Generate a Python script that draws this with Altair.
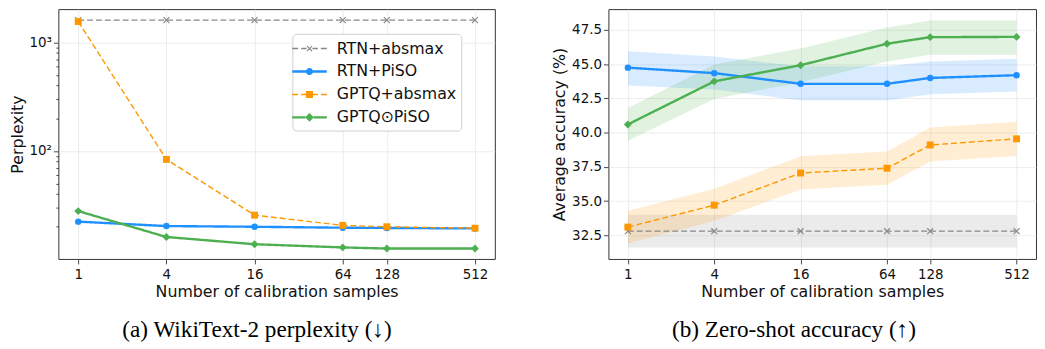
import altair as alt
import pandas as pd

# ---------------- data ----------------
series = ["RTN+absmax", "RTN+PiSO", "GPTQ+absmax", "GPTQ⊙PiSO"]
samples = [1, 4, 16, 64, 128, 512]
x_ticks = [1, 4, 16, 64, 128, 512]

# (a) WikiText-2 perplexity
ppl_rtn_absmax = [1607, 1607, 1607, 1607, 1607, 1607]
ppl_rtn_piso = [22.3, 20.3, 20.0, 19.6, 19.5, 19.3]
ppl_gptq_absmax = [1560, 83.6, 25.6, 20.6, 20.0, 19.4]
ppl_gptq_piso = [27.9, 16.1, 13.8, 12.9, 12.6, 12.6]

# (b) zero-shot accuracy (mean, band low, band high)
acc_rtn_absmax = [32.8, 32.8, 32.8, 32.8, 32.8, 32.8]
acc_rtn_absmax_lo = [31.6, 31.6, 31.6, 31.6, 31.6, 31.6]
acc_rtn_absmax_hi = [34.0, 34.0, 34.0, 34.0, 34.0, 34.0]
acc_rtn_piso = [44.75, 44.35, 43.57, 43.57, 44.0, 44.2]
acc_rtn_piso_lo = [43.45, 43.15, 42.35, 42.35, 42.8, 43.0]
acc_rtn_piso_hi = [45.95, 45.57, 44.85, 44.85, 45.2, 45.4]
acc_gptq_absmax = [33.1, 34.7, 37.05, 37.4, 39.1, 39.55]
acc_gptq_absmax_lo = [31.9, 33.55, 35.85, 36.2, 37.9, 38.3]
acc_gptq_absmax_hi = [34.3, 35.9, 38.27, 38.62, 40.37, 40.79]
acc_gptq_piso = [40.6, 43.75, 44.93, 46.5, 46.98, 47.0]
acc_gptq_piso_lo = [39.4, 42.46, 43.69, 45.21, 45.69, 45.69]
acc_gptq_piso_hi = [41.8, 44.98, 46.16, 47.68, 48.2, 48.2]

left_ticks_major = [100, 1000]
left_ticks_minor = [20, 30, 40, 50, 60, 70, 80, 90, 200, 300, 400, 500, 600, 700, 800, 900]
right_ticks = [32.5, 35.0, 37.5, 40.0, 42.5, 45.0, 47.5]

# ---------------- styles ----------------
colors = ["#888888", "#1E90FF", "#FF9800", "#4CAF50"]
dashed = [True, False, True, False]
widths = [1.4, 2.4, 1.4, 2.4]
FONT = "DejaVu Sans"

ppl_df = pd.DataFrame({
    "samples": samples * 4,
    "series": [s for s in series for _ in samples],
    "value": ppl_rtn_absmax + ppl_rtn_piso + ppl_gptq_absmax + ppl_gptq_piso,
})
acc_df = pd.DataFrame({
    "samples": samples * 4,
    "series": [s for s in series for _ in samples],
    "value": acc_rtn_absmax + acc_rtn_piso + acc_gptq_absmax + acc_gptq_piso,
    "lo": acc_rtn_absmax_lo + acc_rtn_piso_lo + acc_gptq_absmax_lo + acc_gptq_piso_lo,
    "hi": acc_rtn_absmax_hi + acc_rtn_piso_hi + acc_gptq_absmax_hi + acc_gptq_piso_hi,
})

X_PATH = "M-1,-1L1,1M-1,1L1,-1"

# legend symbol geometry (pixels), converted to the unit box of a custom symbol
LEG_SIZE = 19.4                 # symbol "diameter" used by the legend layout
R = LEG_SIZE / 2.0              # pixels per path unit
HALF_LEN = 17.5                 # half length of the sample line (px)


def u(px):
    return px / R


def seg(x0, x1, h):
    return f"M{u(x0):.3f},{u(-h):.3f}H{u(x1):.3f}V{u(h):.3f}H{u(x0):.3f}Z"


def line_part(m, h, dash):
    parts = []
    if not dash:
        parts.append(seg(-HALF_LEN, -m, h))
        parts.append(seg(m, HALF_LEN, h))
    else:
        d, g = 6.0, 3.0
        x = -HALF_LEN
        while x < -m - 0.3:
            parts.append(seg(x, min(x + d, -m), h))
            x += d + g
        x = HALF_LEN
        while x > m + 0.3:
            parts.append(seg(max(x - d, m), x, h))
            x -= d + g
    return "".join(parts)


def xmark(a, t):
    pts = [(-a, -a + t), (-a + t, -a), (0, -t), (a - t, -a), (a, -a + t), (t, 0),
           (a, a - t), (a - t, a), (0, t), (-a + t, a), (-a, a - t), (-t, 0)]
    return "M" + "L".join(f"{u(px):.3f},{u(py):.3f}" for px, py in pts) + "Z"


def circle(rad):
    r = u(rad)
    return f"M{-r:.3f},0A{r:.3f},{r:.3f} 0 1,1 {r:.3f},0A{r:.3f},{r:.3f} 0 1,1 {-r:.3f},0Z"


def square(h):
    return f"M{u(-h):.3f},{u(-h):.3f}H{u(h):.3f}V{u(h):.3f}H{u(-h):.3f}Z"


def diamond(h):
    a = u(h)
    return f"M0,{-a:.3f}L{a:.3f},0L0,{a:.3f}L{-a:.3f},0Z"


hd, hs = 0.75, 1.2
leg_paths = [
    line_part(3.0, hd, True) + xmark(3.0, 0.8),
    line_part(3.5, hs, False) + circle(3.6),
    line_part(3.5, hd, True) + square(3.6),
    line_part(4.2, hs, False) + diamond(4.4),
]
marker_shapes = [X_PATH, "circle", "square", "diamond"]
marker_sizes = [36, 42, 49, 64]

xscale = alt.Scale(type="log", base=2, domain=[0.732, 699.4], nice=False)
xaxis = alt.Axis(values=x_ticks, format="d", title="Number of calibration samples",
                 grid=True, labelPadding=4, titlePadding=2, labelFlush=False,
                 labelOverlap=False)


def series_layers(df, yenc):
    layers = []
    for i, s in enumerate(series):
        base = alt.Chart(df).transform_filter(alt.datum.series == s)
        ln = base.mark_line(color=colors[i], strokeWidth=widths[i],
                            strokeDash=[6, 3] if dashed[i] else [1, 0]).encode(
            x=alt.X("samples:Q", scale=xscale, axis=xaxis), y=yenc)
        if i == 0:
            pt = base.mark_point(shape=marker_shapes[i], size=marker_sizes[i], filled=False,
                                 color=colors[i], strokeWidth=1.2, opacity=1)
        else:
            pt = base.mark_point(shape=marker_shapes[i], size=marker_sizes[i], filled=True,
                                 color=colors[i], opacity=1)
        pt = pt.encode(x=alt.X("samples:Q", scale=xscale, axis=xaxis), y=yenc)
        layers += [ln, pt]
    return layers


# ---------------- left panel ----------------
major_test = "datum.value == 100 || datum.value == 1000"
yaxis_l = alt.Axis(
    title="Perplexity",
    values=left_ticks_major + left_ticks_minor,
    labelExpr="datum.value == 100 ? '10²' : datum.value == 1000 ? '10³' : ''",
    labelOverlap=False, labelFlush=False, labelPadding=2, titlePadding=4,
    tickSize={"condition": {"test": major_test, "value": 5}, "value": 2.5},
    gridOpacity={"condition": {"test": major_test, "value": 1}, "value": 0},
    grid=True,
)
yenc_l = alt.Y("value:Q", scale=alt.Scale(type="log", domain=[10.1, 2030], nice=False),
               axis=yaxis_l)

legend = alt.Legend(
    title=None, orient="none", legendX=237, legendY=25, padding=5,
    symbolSize=LEG_SIZE ** 2, symbolOffset=2.3, labelOffset=17.6, rowPadding=5.2,
    labelFont=FONT, labelFontSize=16, labelColor="#111",
    symbolOpacity=1, symbolStrokeWidth=0,
    fillColor="white", strokeColor="#d0d0d0", cornerRadius=4,
)
legend_layer = alt.Chart(ppl_df).mark_point(filled=True, opacity=0).encode(
    x=alt.X("samples:Q", scale=xscale, axis=xaxis),
    y=yenc_l,
    color=alt.Color("series:N", scale=alt.Scale(domain=series, range=colors), legend=legend),
    shape=alt.Shape("series:N", scale=alt.Scale(domain=series, range=leg_paths), legend=legend),
)

caption_style = dict(orient="bottom", anchor="middle", frame="bounds",
                     font="Liberation Serif", fontSize=23.5, fontWeight="normal",
                     color="#000", offset=19)

left = alt.layer(*series_layers(ppl_df, yenc_l), legend_layer).properties(
    width=442, height=253,
    title=alt.TitleParams("(a) WikiText-2 perplexity (↓)", dx=5, **caption_style),
)

# ---------------- right panel ----------------
yaxis_r = alt.Axis(title="Average accuracy (%)", values=right_ticks, format=".1f",
                   grid=True, labelPadding=2, titlePadding=4, labelFlush=False,
                   labelOverlap=False)
yscale_r = alt.Scale(domain=[30.77, 49.03], nice=False, zero=False)
yenc_r = alt.Y("value:Q", scale=yscale_r, axis=yaxis_r)
bands = []
for i, s in enumerate(series):
    bands.append(
        alt.Chart(acc_df).transform_filter(alt.datum.series == s)
        .mark_area(color=colors[i], opacity=0.17)
        .encode(x=alt.X("samples:Q", scale=xscale, axis=xaxis),
                y=alt.Y("lo:Q", scale=yscale_r, axis=yaxis_r),
                y2="hi:Q")
    )
right = alt.layer(*bands, *series_layers(acc_df, yenc_r)).properties(
    width=433, height=253,
    title=alt.TitleParams("(b) Zero-shot accuracy (↑)", **caption_style),
)

chart = alt.hconcat(left, right, spacing=56).properties(
    padding={"left": 0, "top": -2, "right": 0, "bottom": 0}
).configure_view(stroke="#333333", strokeWidth=1).configure_axis(
    labelFont=FONT, titleFont=FONT, labelFontSize=13.6, titleFontSize=16,
    titleFontWeight="normal", labelColor="#111", titleColor="#111",
    tickColor="#333", domain=False, gridColor="#e8e8e8", gridWidth=0.8,
    tickSize=5, tickWidth=0.9,
)

chart.save("out.html", embed_options={"renderer": "svg", "actions": False})
